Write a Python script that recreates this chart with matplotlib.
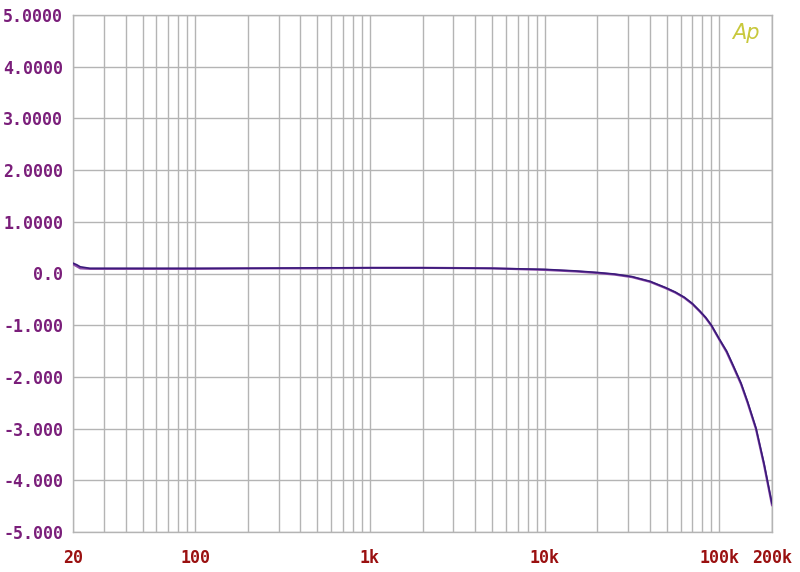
import matplotlib
matplotlib.use("Agg")
import matplotlib.pyplot as plt
from matplotlib.ticker import FixedLocator, NullLocator

freqs = [20, 21, 22, 25, 30, 50, 100, 200, 500, 1000, 2000, 5000, 10000,
         15000, 20000, 25000, 31600, 40000, 49000, 56000, 63000, 70000,
         77000, 83500, 90000, 100000, 110000, 120000, 133000, 145000,
         162000, 180000, 200000]
ch1 = [0.20, 0.17, 0.13, 0.10, 0.10, 0.10, 0.10, 0.10, 0.11, 0.11, 0.11,
       0.10, 0.08, 0.05, 0.02, -0.01, -0.06, -0.15, -0.27, -0.36, -0.46,
       -0.58, -0.72, -0.85, -1.00, -1.27, -1.50, -1.78, -2.12, -2.48,
       -2.99, -3.67, -4.45]
ch2 = [0.18, 0.14, 0.10, 0.09, 0.09, 0.09, 0.09, 0.10, 0.10, 0.11, 0.11,
       0.10, 0.07, 0.04, 0.01, -0.02, -0.07, -0.16, -0.28, -0.37, -0.47,
       -0.59, -0.73, -0.86, -1.01, -1.28, -1.52, -1.80, -2.14, -2.50,
       -3.01, -3.70, -4.48]

y_ticks = [5, 4, 3, 2, 1, 0, -1, -2, -3, -4, -5]
y_labels = ["5.0000", "4.0000", "3.0000", "2.0000", "1.0000", "0.0",
            "-1.000", "-2.000", "-3.000", "-4.000", "-5.000"]
x_ticks = [20, 100, 1000, 10000, 100000, 200000]
x_labels = ["20", "100", "1k", "10k", "100k", "200k"]

grid_x = []
for dec in [10, 100, 1000, 10000, 100000]:
    for m in range(1, 10):
        f = m * dec
        if 20 <= f <= 200000:
            grid_x.append(f)
grid_x.append(200000)

fig = plt.figure(figsize=(8, 5.72), dpi=100)
ax = fig.add_axes([73/800, 40/572, (772-73)/800, (532-15)/572])
ax.set_xscale("log")
ax.set_xlim(20, 200000)
ax.set_ylim(-5, 5)

gc = "#b4b4b4"
for f in grid_x:
    ax.axvline(f, color=gc, lw=1.0, zorder=0)
for y in y_ticks:
    ax.axhline(y, color=gc, lw=1.0, zorder=0)
for s in ax.spines.values():
    s.set_color(gc)
    s.set_linewidth(1.0)

ax.plot(freqs, ch2, color="#8a4aa8", lw=1.6, zorder=3)
ax.plot(freqs, ch1, color="#3a1a7a", lw=1.2, zorder=4)

ax.xaxis.set_major_locator(FixedLocator(x_ticks))
ax.xaxis.set_minor_locator(NullLocator())
ax.set_xticklabels(x_labels)
ax.set_yticks(y_ticks)
ax.set_yticklabels(y_labels)
ax.tick_params(axis="both", length=0)
ax.tick_params(axis="x", pad=12)
ax.tick_params(axis="y", pad=7)
for t in ax.get_xticklabels():
    t.set_fontfamily("DejaVu Sans Mono")
    t.set_fontweight("bold")
    t.set_fontsize(12)
    t.set_color("#9a1010")
for t in ax.get_yticklabels():
    t.set_fontfamily("DejaVu Sans Mono")
    t.set_fontweight("bold")
    t.set_fontsize(12)
    t.set_color("#7a1e7a")

ax.text(0.962, 0.965, "Ap", transform=ax.transAxes, ha="center", va="center",
        fontsize=15, style="italic", color="#c8c83c", family="DejaVu Sans")

fig.savefig("out.png", dpi=100, facecolor="white")
